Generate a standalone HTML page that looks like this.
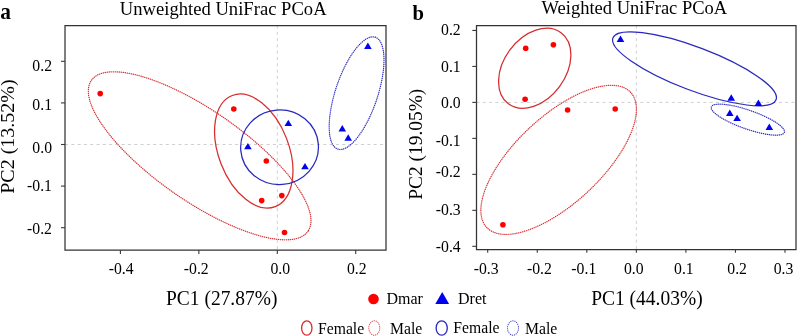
<!DOCTYPE html><html><head><meta charset="utf-8"><style>html,body{margin:0;padding:0;background:#fff;width:797px;height:336px;overflow:hidden}svg{display:block;will-change:transform}</style></head><body><svg width="797" height="336" viewBox="0 0 797 336" font-family="Liberation Serif">
<rect width="797" height="336" fill="#fff"/>
<line x1="65" y1="144.5" x2="386" y2="144.5" stroke="#cfcfcf" stroke-width="1" stroke-dasharray="3 3.3"/>
<line x1="277.3" y1="25.5" x2="277.3" y2="250" stroke="#cfcfcf" stroke-width="1" stroke-dasharray="3 3.3"/>
<ellipse cx="0" cy="0" rx="132" ry="45.1" transform="translate(199.66 155.81) rotate(34.86)" fill="none" stroke="#d62c2e" stroke-opacity="0.25" stroke-width="0.9"/>
<ellipse cx="0" cy="0" rx="132" ry="45.1" transform="translate(199.66 155.81) rotate(34.86)" fill="none" stroke="#d62c2e" stroke-width="1.3" stroke-linecap="round" stroke-dasharray="0.01 2.0"/>
<ellipse cx="0" cy="0" rx="59.57" ry="35.11" transform="translate(253.76 151.05) rotate(68.86)" fill="none" stroke="#d62c2e" stroke-width="1.25"/>
<ellipse cx="0" cy="0" rx="38.9" ry="37.26" transform="translate(279.55 147.24) rotate(-4.57)" fill="none" stroke="#2828c0" stroke-width="1.25"/>
<ellipse cx="0" cy="0" rx="59.03" ry="21.09" transform="translate(356.58 93.2) rotate(-71.47)" fill="none" stroke="#2828c0" stroke-opacity="0.25" stroke-width="0.9"/>
<ellipse cx="0" cy="0" rx="59.03" ry="21.09" transform="translate(356.58 93.2) rotate(-71.47)" fill="none" stroke="#2828c0" stroke-width="1.3" stroke-linecap="round" stroke-dasharray="0.01 2.0"/>
<circle cx="100.2" cy="93.6" r="2.8" fill="#ff0000"/>
<circle cx="233.8" cy="109" r="2.8" fill="#ff0000"/>
<circle cx="266.3" cy="161" r="2.8" fill="#ff0000"/>
<circle cx="261.7" cy="200.6" r="2.8" fill="#ff0000"/>
<circle cx="281.8" cy="195.6" r="2.8" fill="#ff0000"/>
<circle cx="284.5" cy="232.5" r="2.8" fill="#ff0000"/>
<path d="M284.5 126.10000000000001 L292.1 126.10000000000001 L288.3 119.7 Z" fill="#0000ee"/>
<path d="M244.1 149.29999999999998 L251.70000000000002 149.29999999999998 L247.9 142.9 Z" fill="#0000ee"/>
<path d="M301.2 169.29999999999998 L308.8 169.29999999999998 L305 162.9 Z" fill="#0000ee"/>
<path d="M364.09999999999997 48.900000000000006 L371.7 48.900000000000006 L367.9 42.5 Z" fill="#0000ee"/>
<path d="M338.5 131.39999999999998 L346.1 131.39999999999998 L342.3 124.99999999999999 Z" fill="#0000ee"/>
<path d="M344.4 140.7 L352.0 140.7 L348.2 134.3 Z" fill="#0000ee"/>
<path d="M65 25.5 H386 V250 H65 Z" fill="none" stroke="#333" stroke-width="1.25" stroke-linejoin="miter"/>
<line x1="120.42000000000002" y1="250" x2="120.42000000000002" y2="254" stroke="#383838" stroke-width="1.1"/>
<line x1="198.86" y1="250" x2="198.86" y2="254" stroke="#383838" stroke-width="1.1"/>
<line x1="277.3" y1="250" x2="277.3" y2="254" stroke="#383838" stroke-width="1.1"/>
<line x1="355.74" y1="250" x2="355.74" y2="254" stroke="#383838" stroke-width="1.1"/>
<text x="0" y="0" transform="translate(121.1 273.6) scale(0.96 1)" font-size="16.4" text-anchor="middle" font-weight="normal" >-0.4</text>
<text x="0" y="0" transform="translate(196.25 273.6) scale(0.96 1)" font-size="16.4" text-anchor="middle" font-weight="normal" >-0.2</text>
<text x="0" y="0" transform="translate(280.3 273.6) scale(0.96 1)" font-size="16.4" text-anchor="middle" font-weight="normal" >0.0</text>
<text x="0" y="0" transform="translate(356.7 273.6) scale(0.96 1)" font-size="16.4" text-anchor="middle" font-weight="normal" >0.2</text>
<line x1="61" y1="61.3" x2="65" y2="61.3" stroke="#383838" stroke-width="1.1"/>
<text x="0" y="0" transform="translate(52 70.7) scale(0.96 1)" font-size="16.4" text-anchor="end" font-weight="normal" >0.2</text>
<line x1="61" y1="102.9" x2="65" y2="102.9" stroke="#383838" stroke-width="1.1"/>
<text x="0" y="0" transform="translate(52 109.5) scale(0.96 1)" font-size="16.4" text-anchor="end" font-weight="normal" >0.1</text>
<line x1="61" y1="144.5" x2="65" y2="144.5" stroke="#383838" stroke-width="1.1"/>
<text x="0" y="0" transform="translate(52 153.2) scale(0.96 1)" font-size="16.4" text-anchor="end" font-weight="normal" >0.0</text>
<line x1="61" y1="186.1" x2="65" y2="186.1" stroke="#383838" stroke-width="1.1"/>
<text x="0" y="0" transform="translate(52 190.8) scale(0.96 1)" font-size="16.4" text-anchor="end" font-weight="normal" >-0.1</text>
<line x1="61" y1="227.7" x2="65" y2="227.7" stroke="#383838" stroke-width="1.1"/>
<text x="0" y="0" transform="translate(52 234.2) scale(0.96 1)" font-size="16.4" text-anchor="end" font-weight="normal" >-0.2</text>
<text x="0" y="0" transform="translate(223.2 14.5) scale(0.95 1)" font-size="19.6" text-anchor="middle" font-weight="normal" >Unweighted UniFrac PCoA</text>
<text x="0" y="0" transform="translate(221.7 305.4) scale(0.955 1)" font-size="20.4" text-anchor="middle" font-weight="normal" >PC1 (27.87%)</text>
<text x="0" y="0" font-size="20" text-anchor="middle" transform="translate(13.6 136.6) scale(0.95 1) rotate(-90)">PC2 (13.52%)</text>
<text x="0" y="0" transform="translate(0.3 19.35) scale(0.93 1)" font-size="23" text-anchor="start" font-weight="bold" >a</text>
<line x1="476.5" y1="102.4" x2="796" y2="102.4" stroke="#cfcfcf" stroke-width="1" stroke-dasharray="3 3.3"/>
<line x1="636.35" y1="25.5" x2="636.35" y2="249" stroke="#cfcfcf" stroke-width="1" stroke-dasharray="3 3.3"/>
<ellipse cx="0" cy="0" rx="44.25" ry="30.83" transform="translate(534.73 68.2) rotate(-53.5)" fill="none" stroke="#d62c2e" stroke-width="1.25"/>
<ellipse cx="0" cy="0" rx="98.71" ry="43.21" transform="translate(558.64 159.84) rotate(-43.21)" fill="none" stroke="#d62c2e" stroke-opacity="0.25" stroke-width="0.9"/>
<ellipse cx="0" cy="0" rx="98.71" ry="43.21" transform="translate(558.64 159.84) rotate(-43.21)" fill="none" stroke="#d62c2e" stroke-width="1.3" stroke-linecap="round" stroke-dasharray="0.01 2.0"/>
<ellipse cx="0" cy="0" rx="87.22" ry="21.62" transform="translate(694.5 68.82) rotate(20.79)" fill="none" stroke="#2828c0" stroke-width="1.25"/>
<ellipse cx="0" cy="0" rx="38.71" ry="9.38" transform="translate(747.85 119.64) rotate(19.22)" fill="none" stroke="#2828c0" stroke-opacity="0.25" stroke-width="0.9"/>
<ellipse cx="0" cy="0" rx="38.71" ry="9.38" transform="translate(747.85 119.64) rotate(19.22)" fill="none" stroke="#2828c0" stroke-width="1.3" stroke-linecap="round" stroke-dasharray="0.01 2.0"/>
<circle cx="525.7" cy="48.3" r="2.8" fill="#ff0000"/>
<circle cx="553.4" cy="44.7" r="2.8" fill="#ff0000"/>
<circle cx="525.1" cy="99.2" r="2.8" fill="#ff0000"/>
<circle cx="567.6" cy="110" r="2.8" fill="#ff0000"/>
<circle cx="615.2" cy="109" r="2.8" fill="#ff0000"/>
<circle cx="502.9" cy="224.8" r="2.8" fill="#ff0000"/>
<path d="M616.7 41.95 L624.3 41.95 L620.5 35.55 Z" fill="#0000ee"/>
<path d="M727.45 100.7 L735.05 100.7 L731.25 94.3 Z" fill="#0000ee"/>
<path d="M754.6 105.9 L762.1999999999999 105.9 L758.4 99.5 Z" fill="#0000ee"/>
<path d="M726.0 115.9 L733.5999999999999 115.9 L729.8 109.5 Z" fill="#0000ee"/>
<path d="M733.3000000000001 121.10000000000001 L740.9 121.10000000000001 L737.1 114.7 Z" fill="#0000ee"/>
<path d="M765.5 130.0 L773.0999999999999 130.0 L769.3 123.6 Z" fill="#0000ee"/>
<path d="M476.5 25.5 H796 V249.5 H476.5 Z" fill="none" stroke="#333" stroke-width="1.25" stroke-linejoin="miter"/>
<line x1="487.70000000000005" y1="249.5" x2="487.70000000000005" y2="252.8" stroke="#383838" stroke-width="1.1"/>
<line x1="537.25" y1="249.5" x2="537.25" y2="252.8" stroke="#383838" stroke-width="1.1"/>
<line x1="586.8000000000001" y1="249.5" x2="586.8000000000001" y2="252.8" stroke="#383838" stroke-width="1.1"/>
<line x1="636.35" y1="249.5" x2="636.35" y2="252.8" stroke="#383838" stroke-width="1.1"/>
<line x1="685.9" y1="249.5" x2="685.9" y2="252.8" stroke="#383838" stroke-width="1.1"/>
<line x1="735.45" y1="249.5" x2="735.45" y2="252.8" stroke="#383838" stroke-width="1.1"/>
<line x1="785.0" y1="249.5" x2="785.0" y2="252.8" stroke="#383838" stroke-width="1.1"/>
<text x="0" y="0" transform="translate(486.2 273.6) scale(0.96 1)" font-size="16.4" text-anchor="middle" font-weight="normal" >-0.3</text>
<text x="0" y="0" transform="translate(539.45 273.6) scale(0.96 1)" font-size="16.4" text-anchor="middle" font-weight="normal" >-0.2</text>
<text x="0" y="0" transform="translate(583.8 273.6) scale(0.96 1)" font-size="16.4" text-anchor="middle" font-weight="normal" >-0.1</text>
<text x="0" y="0" transform="translate(633.75 273.6) scale(0.96 1)" font-size="16.4" text-anchor="middle" font-weight="normal" >0.0</text>
<text x="0" y="0" transform="translate(683.9 273.6) scale(0.96 1)" font-size="16.4" text-anchor="middle" font-weight="normal" >0.1</text>
<text x="0" y="0" transform="translate(737.15 273.6) scale(0.96 1)" font-size="16.4" text-anchor="middle" font-weight="normal" >0.2</text>
<text x="0" y="0" transform="translate(783.5 273.6) scale(0.96 1)" font-size="16.4" text-anchor="middle" font-weight="normal" >0.3</text>
<line x1="472.3" y1="30.439999999999998" x2="476.5" y2="30.439999999999998" stroke="#383838" stroke-width="1.1"/>
<line x1="472.3" y1="66.42" x2="476.5" y2="66.42" stroke="#383838" stroke-width="1.1"/>
<line x1="472.3" y1="102.4" x2="476.5" y2="102.4" stroke="#383838" stroke-width="1.1"/>
<line x1="472.3" y1="138.38" x2="476.5" y2="138.38" stroke="#383838" stroke-width="1.1"/>
<line x1="472.3" y1="174.36" x2="476.5" y2="174.36" stroke="#383838" stroke-width="1.1"/>
<line x1="472.3" y1="210.34" x2="476.5" y2="210.34" stroke="#383838" stroke-width="1.1"/>
<line x1="472.3" y1="246.32000000000002" x2="476.5" y2="246.32000000000002" stroke="#383838" stroke-width="1.1"/>
<text x="0" y="0" transform="translate(460.7 34.5) scale(0.96 1)" font-size="16.4" text-anchor="end" font-weight="normal" >0.2</text>
<text x="0" y="0" transform="translate(460.7 71.7) scale(0.96 1)" font-size="16.4" text-anchor="end" font-weight="normal" >0.1</text>
<text x="0" y="0" transform="translate(460.7 108.2) scale(0.96 1)" font-size="16.4" text-anchor="end" font-weight="normal" >0.0</text>
<text x="0" y="0" transform="translate(460.7 145.7) scale(0.96 1)" font-size="16.4" text-anchor="end" font-weight="normal" >-0.1</text>
<text x="0" y="0" transform="translate(460.7 176.7) scale(0.96 1)" font-size="16.4" text-anchor="end" font-weight="normal" >-0.2</text>
<text x="0" y="0" transform="translate(460.7 214.8) scale(0.96 1)" font-size="16.4" text-anchor="end" font-weight="normal" >-0.3</text>
<text x="0" y="0" transform="translate(460.7 251.9) scale(0.96 1)" font-size="16.4" text-anchor="end" font-weight="normal" >-0.4</text>
<text x="0" y="0" transform="translate(634.4 13.8) scale(0.945 1)" font-size="19.6" text-anchor="middle" font-weight="normal" >Weighted UniFrac PCoA</text>
<text x="0" y="0" transform="translate(646.9 305.1) scale(0.955 1)" font-size="20.4" text-anchor="middle" font-weight="normal" >PC1 (44.03%)</text>
<text x="0" y="0" font-size="19.4" text-anchor="middle" transform="translate(422.2 144.2) scale(0.95 1) rotate(-90)">PC2 (19.05%)</text>
<text x="0" y="0" transform="translate(412.5 20.0) scale(0.96 1)" font-size="21.5" text-anchor="start" font-weight="bold" >b</text>
<circle cx="373.5" cy="299" r="5.3" fill="#ff0000"/>
<text x="386.5" y="304.1" font-size="16" text-anchor="start" font-weight="normal" >Dmar</text>
<path d="M435.3 303.9 L449.1 303.9 L442.2 292 Z" fill="#0000ee"/>
<text x="458" y="304.1" font-size="16" text-anchor="start" font-weight="normal" >Dret</text>
<ellipse cx="306.8" cy="328" rx="5.2" ry="7.2" fill="none" stroke="#d62c2e" stroke-width="1.3"/>
<text x="318" y="333.8" font-size="15.7" text-anchor="start" font-weight="normal" >Female</text>
<ellipse cx="374.3" cy="328" rx="5.5" ry="7.2" fill="none" stroke="#d62c2e" stroke-opacity="0.25" stroke-width="0.7"/>
<ellipse cx="374.3" cy="328" rx="5.5" ry="7.2" fill="none" stroke="#d62c2e" stroke-width="1.05" stroke-linecap="round" stroke-dasharray="0.01 2.1"/>
<text x="390" y="333.8" font-size="15.7" text-anchor="start" font-weight="normal" >Male</text>
<ellipse cx="441.7" cy="328" rx="5.6" ry="7.2" fill="none" stroke="#2828c0" stroke-width="1.3"/>
<text x="453.3" y="332.8" font-size="15.7" text-anchor="start" font-weight="normal" >Female</text>
<ellipse cx="513" cy="328" rx="5.5" ry="7.2" fill="none" stroke="#2828c0" stroke-opacity="0.25" stroke-width="0.7"/>
<ellipse cx="513" cy="328" rx="5.5" ry="7.2" fill="none" stroke="#2828c0" stroke-width="1.05" stroke-linecap="round" stroke-dasharray="0.01 2.1"/>
<text x="525" y="333.8" font-size="15.7" text-anchor="start" font-weight="normal" >Male</text>
</svg></body></html>
